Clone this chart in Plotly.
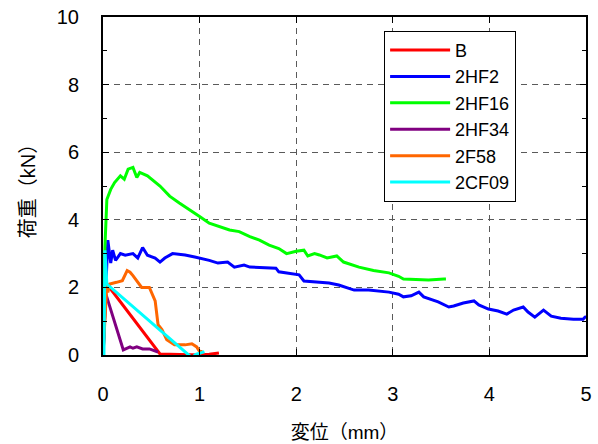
import plotly.graph_objects as go

# Load-displacement curves (displacement in mm, load in kN)
b_x = [0, 0.01, 0.02, 0.04, 0.59, 0.8, 1.0, 1.1, 1.2]
b_y = [0, 0.5, 2.0, 2.1, 0.03, 0.02, 0.0, 0.02, 0.06]

hf2_x = [0, 0.02, 0.04, 0.05, 0.08, 0.10, 0.13, 0.18, 0.23, 0.31, 0.36, 0.41, 0.46, 0.54,
         0.59, 0.64, 0.72, 0.85, 0.95, 1.0, 1.1, 1.19, 1.29, 1.36, 1.46, 1.52, 1.65, 1.79,
         1.82, 2.03, 2.08, 2.34, 2.44, 2.6, 2.75, 2.86, 2.96, 3.06, 3.11, 3.19, 3.27, 3.32,
         3.47, 3.58, 3.63, 3.73, 3.84, 3.89, 3.99, 4.09, 4.18, 4.25, 4.35, 4.4, 4.47, 4.56,
         4.64, 4.74, 4.87, 4.97, 4.99, 5.05]
hf2_y = [0, 1.5, 3.0, 3.4, 2.72, 3.1, 2.8, 3.0, 2.95, 3.0, 2.87, 3.18, 2.95, 2.87,
         2.75, 2.87, 3.0, 2.96, 2.9, 2.87, 2.8, 2.72, 2.75, 2.6, 2.66, 2.6, 2.58, 2.57,
         2.46, 2.37, 2.19, 2.13, 2.07, 1.92, 1.92, 1.89, 1.86, 1.8, 1.72, 1.75, 1.86, 1.72,
         1.57, 1.42, 1.45, 1.54, 1.6, 1.48, 1.36, 1.3, 1.21, 1.33, 1.42, 1.27, 1.12, 1.33,
         1.15, 1.09, 1.06, 1.06, 1.12, 1.15]

hf16_x = [0, 0.01, 0.02, 0.04, 0.08, 0.12, 0.18, 0.22, 0.26, 0.31, 0.35, 0.38, 0.46, 0.59,
          0.69, 0.79, 0.90, 1.0, 1.1, 1.21, 1.31, 1.41, 1.52, 1.62, 1.72, 1.82, 1.90, 2.0,
          2.08, 2.12, 2.19, 2.24, 2.32, 2.42, 2.49, 2.65, 2.8, 2.96, 3.06, 3.11, 3.27, 3.37,
          3.53, 3.55]
hf16_y = [0, 2.0, 3.2, 4.6, 4.9, 5.1, 5.3, 5.2, 5.5, 5.55, 5.25, 5.4, 5.3, 5.0,
          4.7, 4.5, 4.3, 4.1, 3.9, 3.8, 3.7, 3.65, 3.5, 3.4, 3.25, 3.15, 3.0, 3.07,
          3.1, 2.93, 3.0, 2.96, 2.87, 2.93, 2.75, 2.6, 2.5, 2.43, 2.33, 2.25, 2.22, 2.22,
          2.25, 2.25]

hf34_x = [0, 0.01, 0.03, 0.21, 0.28, 0.31, 0.35, 0.41, 0.48, 0.57]
hf34_y = [0, 0.6, 1.8, 0.15, 0.24, 0.2, 0.24, 0.18, 0.18, 0.09]

f58_x = [0, 0.02, 0.04, 0.05, 0.07, 0.14, 0.2, 0.25, 0.28, 0.31, 0.35, 0.4, 0.45, 0.48,
         0.54, 0.57, 0.61, 0.66, 0.74, 0.85, 0.92, 0.97, 1.0, 1.03]
f58_y = [0, 1.2, 2.1, 1.85, 2.1, 2.15, 2.2, 2.5, 2.45, 2.35, 2.2, 2.0, 2.0, 2.0,
         1.6, 0.9, 0.75, 0.45, 0.3, 0.3, 0.33, 0.24, 0.1, 0.1]

cf09_x = [0, 0.01, 0.02, 0.04, 0.92, 0.96, 1.0, 1.05]
cf09_y = [0, 0.0, 3.1, 2.1, -0.08, 0.02, 0.05, 0.1]

series = [
    ("B", b_x, b_y, "#ff0000"),
    ("2HF2", hf2_x, hf2_y, "#0000ff"),
    ("2HF16", hf16_x, hf16_y, "#00ff00"),
    ("2HF34", hf34_x, hf34_y, "#800080"),
    ("2F58", f58_x, f58_y, "#ff6600"),
    ("2CF09", cf09_x, cf09_y, "#00ffff"),
]

font_family = "Liberation Sans, Arial, Noto Sans CJK JP"

fig = go.Figure()
for name, xs, ys, color in series:
    fig.add_trace(go.Scatter(x=xs, y=ys, name=name, mode="lines",
                             line=dict(color=color, width=3)))

axis_common = dict(
    showline=True, linecolor="black", linewidth=2, mirror="ticks",
    ticks="inside", ticklen=6, tickcolor="black", tickwidth=1,
    showgrid=True, gridcolor="#5a5a5a", griddash="6px,5px", gridwidth=1,
    zeroline=False, automargin=False,
    tickfont=dict(size=20, color="black", family=font_family),
)

fig.update_layout(
    width=598, height=444,
    margin=dict(l=103, r=12, t=17, b=89),
    paper_bgcolor="white", plot_bgcolor="white",
    font=dict(family=font_family, color="black"),
    showlegend=True,
    legend=dict(
        x=0.582, y=0.959, xanchor="left", yanchor="top",
        bgcolor="white", bordercolor="black", borderwidth=1,
        font=dict(size=18, color="black", family=font_family),
        tracegroupgap=0, itemwidth=60, entrywidth=155,
    ),
    xaxis=dict(
        range=[0, 5], dtick=1, tick0=0,
        title=dict(text="変位（mm）", font=dict(size=19), standoff=22),
        ticklabelstandoff=20,
        **axis_common,
    ),
    yaxis=dict(
        range=[0, 10], dtick=2, tick0=0,
        title=dict(text="荷重（kN）", font=dict(size=20), standoff=16),
        ticklabelstandoff=18,
        minor=dict(dtick=1, ticks="inside", ticklen=4, tickcolor="black", showgrid=False),
        **axis_common,
    ),
)

fig.write_html("out.html")
